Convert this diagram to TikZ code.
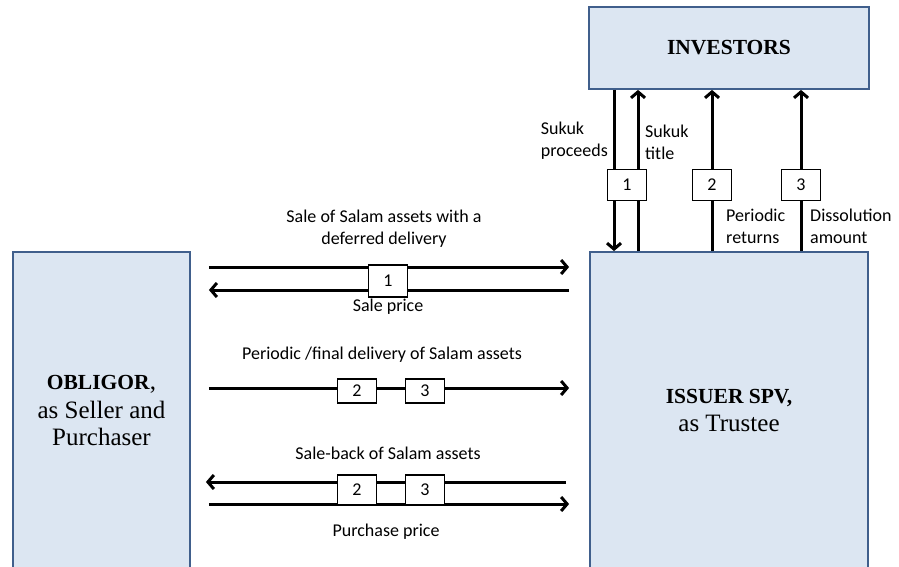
\documentclass[tikz,border=0pt]{standalone}
\usepackage{fontspec}
\setmainfont{Liberation Serif}
\setsansfont{Carlito}
\usetikzlibrary{arrows.meta, positioning}
\definecolor{cBox}{RGB}{220,230,242}
\definecolor{cEdge}{RGB}{64,95,140}
\newcommand{\partyname}[1]{{\fontsize{21.5}{28}\selectfont\textbf{#1}}}
\tikzset{
  partybox/.style={rectangle, draw=cEdge, fill=cBox, line width=1.8pt,
                   align=center, inner sep=0pt,
                   font=\fontsize{25}{28}\selectfont},
  numbox/.style={rectangle, draw=black, fill=white, line width=1.4pt,
                 minimum width=39pt, minimum height=31pt, inner sep=0pt,
                 font=\sffamily\fontsize{18}{20}\selectfont},
  lbl/.style={font=\sffamily\fontsize{18}{22}\selectfont, align=center,
              inner sep=1pt},
  flow/.style={-{Straight Barb[length=6pt,width=14pt]}, line width=3pt}
}
\begin{document}
\begin{tikzpicture}[x=1pt, y=-1pt]
  \path[use as bounding box, clip] (0,0) rectangle (899,567);

  % Parties
  \node[partybox, minimum width=280pt, minimum height=82pt] (investors)
      at (729,48) {\partyname{INVESTORS}};
  \node[partybox, minimum width=177pt, minimum height=318pt] (obligor)
      at (101.5,411) {\partyname{OBLIGOR},\\as Seller and\\Purchaser};
  \node[partybox, minimum width=278pt, minimum height=318pt] (spv)
      at (729,411) {\partyname{ISSUER SPV,}\\as Trustee};

  % Arrow columns and rows
  \coordinate (c1) at (614,0);
  \coordinate (c2) at (638,0);
  \coordinate (c3) at (712,0);
  \coordinate (c4) at (801,0);
  \coordinate (r1) at (0,267);
  \coordinate (r2) at (0,290);
  \coordinate (r3) at (0,388);
  \coordinate (r4) at (0,482);
  \coordinate (r5) at (0,504);

  % Investors <-> SPV
  \draw[flow] (investors.south -| c1) -- (spv.north -| c1);
  \draw[flow] (spv.north -| c2) -- (investors.south -| c2);
  \draw[flow] (spv.north -| c3) -- (investors.south -| c3);
  \draw[flow] (spv.north -| c4) -- (investors.south -| c4);

  % Obligor <-> SPV
  \draw[flow, shorten <=18pt, shorten >=20pt] (obligor.east |- r1) -- (spv.west |- r1);
  \draw[flow, shorten <=20pt, shorten >=18pt] (spv.west |- r2) -- (obligor.east |- r2);
  \draw[flow, shorten <=18pt, shorten >=20pt] (obligor.east |- r3) -- (spv.west |- r3);
  \draw[flow, shorten <=23pt, shorten >=15pt] (spv.west |- r4) -- (obligor.east |- r4);
  \draw[flow, shorten <=18pt, shorten >=20pt] (obligor.east |- r5) -- (spv.west |- r5);

  % Step numbers
  \node[numbox] (n1) at (627,185) {1};
  \node[numbox] (n2) at (712,185) {2};
  \node[numbox] (n3) at (801,185) {3};
  \node[numbox, minimum height=32pt] (s1) at (388,281) {1};
  \node[numbox, minimum height=24pt] (d2) at (357,391) {2};
  \node[numbox, minimum height=24pt] (d3) at (425,391) {3};
  \node[numbox, minimum height=30pt] (b2) at (357,490) {2};
  \node[numbox, minimum height=30pt] (b3) at (425,490) {3};

  % Labels
  \node[lbl, align=left, anchor=east] (proceeds) at (609,141) {Sukuk\\proceeds};
  \node[lbl, align=left, anchor=west] (title) at (644,142) {Sukuk\\title};
  \node[lbl, align=left, anchor=west] (returns) at (725,226) {Periodic\\returns};
  \node[lbl, align=left, anchor=west] (dissolution) at (809,226) {Dissolution\\amount};
  \node[lbl] (salelbl) at (384,229) {Sale of Salam assets with a\\deferred delivery};
  \node[lbl] (pricelbl) at (388,307) {Sale price};
  \node[lbl] (deliverylbl) at (382,355) {Periodic /final delivery of Salam assets};
  \node[lbl] (salebacklbl) at (388,453) {Sale-back of Salam assets};
  \node[lbl] (purchaselbl) at (386,532) {Purchase price};

\end{tikzpicture}
\end{document}
